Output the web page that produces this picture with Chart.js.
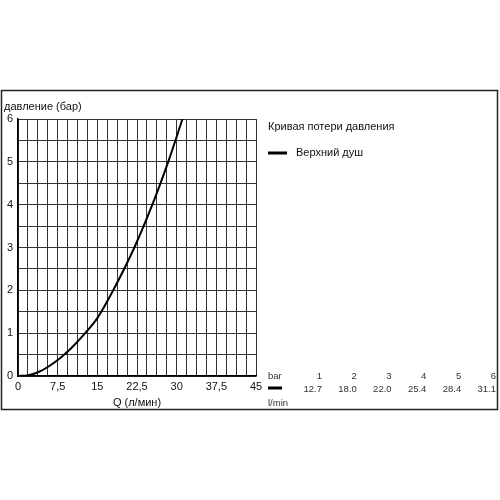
<!DOCTYPE html>
<html>
<head>
<meta charset="utf-8">
<script src="https://cdn.jsdelivr.net/npm/chart.js@4.4.1/dist/chart.umd.min.js"></script>
<style>
  body { margin: 0; background: #fff; }
  canvas { display: block; }
</style>
</head>
<body>
<canvas id="chart" width="500" height="500"></canvas>
<script>
// curve (Q in l/min, pressure in bar)
const flow = [0, 2, 4, 6, 8, 10, 12.7, 15, 18.0, 22.0, 25.4, 28.4, 31.1];
const pressure = [0, 0.02, 0.1, 0.24, 0.42, 0.64, 1, 1.35, 2, 3, 4, 5, 6];

// table under the legend
const tableBar = [1, 2, 3, 4, 5, 6];
const tableFlow = [12.7, 18.0, 22.0, 25.4, 28.4, 31.1];

const xTickLabels = ["0", "7,5", "15", "22,5", "30", "37,5", "45"];
const yTickLabels = ["0", "1", "2", "3", "4", "5", "6"];

const seriesName = "Верхний душ";
const legendTitle = "Кривая потери давления";
const yTitle = "давление (бар)";
const xTitle = "Q (л/мин)";

const FONT = "'Liberation Sans', Arial, sans-serif";

const decor = {
  id: "decor",
  beforeDraw(chart) {
    const c = chart.ctx;
    c.save();
    c.fillStyle = "#fff";
    c.fillRect(0, 0, chart.width, chart.height);
    c.strokeStyle = "#222";
    c.lineWidth = 1.5;
    c.strokeRect(1.5, 90.5, 496, 319);
    c.restore();
  },
  afterDraw(chart) {
    const c = chart.ctx;
    c.save();
    c.fillStyle = "#111";
    c.textBaseline = "middle";

    c.font = "11px " + FONT;
    c.textAlign = "left";
    c.fillText(yTitle, 4, 107);

    // legend
    c.fillText(legendTitle, 268, 127);
    c.fillText(seriesName, 296, 153);
    c.strokeStyle = "#000";
    c.lineWidth = 3;
    c.beginPath();
    c.moveTo(268, 153);
    c.lineTo(287, 153);
    c.stroke();

    // table
    c.font = "9.5px " + FONT;
    c.fillStyle = "#333";
    c.fillText("bar", 268, 376);
    c.fillText("l/min", 268, 403);
    c.beginPath();
    c.moveTo(268, 388);
    c.lineTo(282, 388);
    c.stroke();
    c.textAlign = "right";
    tableBar.forEach((b, i) => {
      const x = 322 + i * 34.8;
      c.fillText(String(b), x, 376);
      c.fillText(tableFlow[i].toFixed(1), x, 389);
    });
    c.restore();
  }
};

const ctx = document.getElementById("chart");
new Chart(ctx, {
  type: "scatter",
  data: {
    datasets: [
      {
        label: seriesName,
        data: flow.map((q, i) => ({ x: q, y: pressure[i] })),
        showLine: true,
        borderColor: "#000",
        borderWidth: 2,
        pointRadius: 0,
        cubicInterpolationMode: "monotone",
      },
    ],
  },
  options: {
    responsive: false,
    animation: false,
    devicePixelRatio: 1,
    layout: {
      padding: { left: 0, top: 119, right: 244, bottom: 90 },
    },
    plugins: {
      legend: { display: false },
      tooltip: { enabled: false },
    },
    scales: {
      x: {
        type: "linear",
        min: 0,
        max: 45,
        afterFit: (s) => { s.height = 34; },
        ticks: {
          stepSize: 1.875,
          autoSkip: false,
          maxRotation: 0,
          padding: 4,
          color: "#111",
          font: { family: FONT, size: 11 },
          callback: (val) => {
            const k = val / 7.5;
            return Math.abs(k - Math.round(k)) < 1e-6 ? xTickLabels[Math.round(k)] : "";
          },
        },
        grid: { color: "#333", lineWidth: 1, drawTicks: false },
        border: { color: "#000", width: 1.5 },
        title: {
          display: true,
          text: xTitle,
          color: "#111",
          font: { family: FONT, size: 11 },
          padding: { top: 0, bottom: 0 },
        },
      },
      y: {
        min: 0,
        max: 6,
        afterFit: (s) => { s.width = 18; },
        ticks: {
          stepSize: 0.5,
          autoSkip: false,
          padding: 5,
          color: "#111",
          font: { family: FONT, size: 11 },
          callback: (val) => (Number.isInteger(val) ? yTickLabels[val] : ""),
        },
        grid: { color: "#333", lineWidth: 1, drawTicks: false },
        border: { color: "#000", width: 1.5 },
      },
    },
  },
  plugins: [decor],
});
</script>
</body>
</html>
